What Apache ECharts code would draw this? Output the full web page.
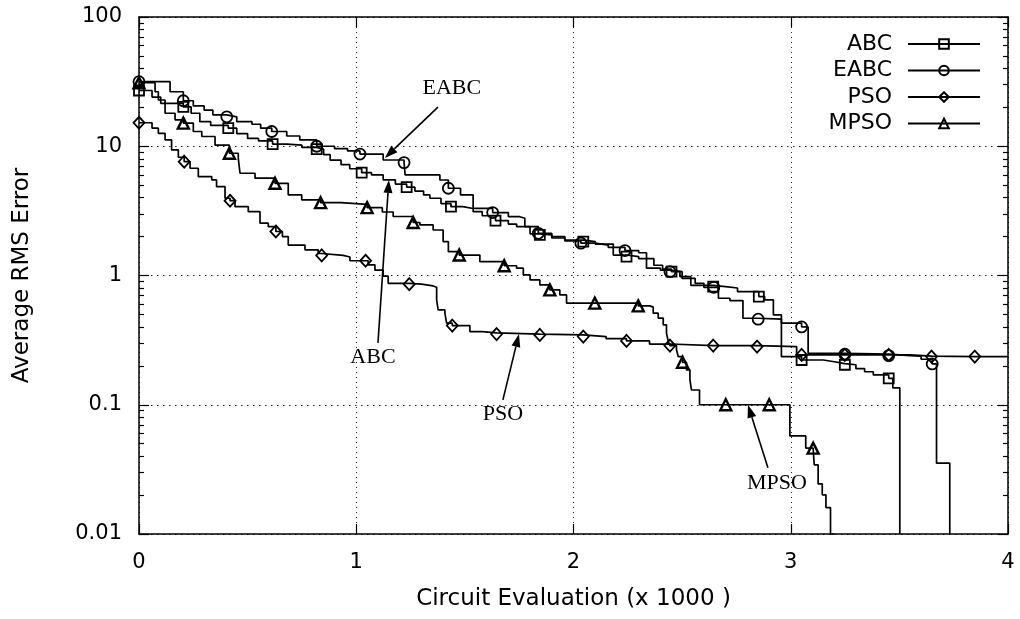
<!DOCTYPE html>
<html><head><meta charset="utf-8">
<script src="https://cdn.jsdelivr.net/npm/echarts@6/dist/echarts.min.js"></script>
<style>html,body{margin:0;padding:0;background:#fff}#c{width:1020px;height:619px}</style>
</head><body><div id="c"></div>
<script>
// ---- data (x in thousands of evaluations, y = average RMS error) ----
const seriesNames = ['ABC', 'EABC', 'PSO', 'MPSO'];
const xTicks = [0, 1, 2, 3, 4];
const yMinorTicks = [0.02,0.03,0.04,0.05,0.06,0.07,0.08,0.09,0.2,0.3,0.4,0.5,0.6,0.7,0.8,0.9,2,3,4,5,6,7,8,9,20,30,40,50,60,70,80,90];

const abcSteps = [[0,27],[0.06,24],[0.1,21.5],[0.204,20.2],[0.24,18],[0.28,15.5],[0.33,14.5],[0.411,13.8],[0.45,12.5],[0.5,11.5],[0.55,11],[0.615,10.4],[0.68,10.2],[0.75,9.8],[0.818,9.5],[0.85,8.6],[0.88,7.8],[0.93,7.2],[0.97,6.7],[1.025,6.25],[1.07,6.0],[1.124,5.5],[1.18,5.1],[1.232,4.82],[1.27,4.5],[1.31,4.2],[1.339,3.96],[1.39,3.6],[1.436,3.41],[1.49,3.3],[1.538,3.12],[1.58,2.9],[1.641,2.66],[1.7,2.5],[1.738,2.39],[1.8,2.1],[1.845,2.06],[1.9,1.95],[1.96,1.88],[2.045,1.83],[2.1,1.75],[2.183,1.44],[2.244,1.40],[2.3,1.35],[2.37,1.2],[2.41,1.12],[2.451,1.07],[2.49,0.98],[2.54,0.84],[2.643,0.82],[2.7,0.80],[2.755,0.75],[2.853,0.687],[2.88,0.647],[2.92,0.496],[2.957,0.236],[3.05,0.222],[3.15,0.215],[3.2,0.208],[3.249,0.204],[3.3,0.19],[3.34,0.18],[3.38,0.17],[3.451,0.16],[3.47,0.135],[3.502,0.01]];
const abcMarkX = [0,0.204,0.411,0.615,0.818,1.025,1.232,1.436,1.641,1.845,2.045,2.244,2.451,2.643,2.853,3.05,3.249,3.451];

const eabcSteps = [[0,31.6],[0.143,26.4],[0.204,22.5],[0.25,20.5],[0.3,19],[0.34,17.5],[0.404,16.9],[0.45,15.5],[0.52,14.8],[0.56,13.8],[0.611,13.0],[0.68,12.0],[0.74,11.2],[0.818,10.0],[0.9,9.6],[0.96,9.2],[1.017,8.7],[1.124,7.83],[1.22,7.47],[1.225,6.0],[1.385,5.48],[1.424,4.73],[1.48,4.2],[1.538,3.31],[1.628,3.07],[1.70,2.85],[1.753,2.77],[1.776,2.39],[1.838,2.12],[1.9,2.0],[1.96,1.85],[2.034,1.78],[2.1,1.72],[2.16,1.65],[2.237,1.56],[2.30,1.5],[2.336,1.14],[2.40,1.1],[2.444,1.07],[2.5,0.95],[2.56,0.87],[2.60,0.81],[2.646,0.81],[2.667,0.667],[2.72,0.64],[2.78,0.467],[2.85,0.459],[2.957,0.428],[3.05,0.40],[3.08,0.25],[3.249,0.246],[3.451,0.240],[3.55,0.238],[3.60,0.225],[3.651,0.207],[3.671,0.0353],[3.732,0.01]];
const eabcMarkX = [0,0.204,0.404,0.611,0.818,1.017,1.22,1.424,1.628,1.838,2.034,2.237,2.444,2.646,2.85,3.05,3.249,3.451,3.651];

const psoSteps = [[0,15.2],[0.06,13.8],[0.089,12.6],[0.12,11.2],[0.15,9.36],[0.181,8.22],[0.208,7.6],[0.235,6.76],[0.273,5.82],[0.335,5.49],[0.357,4.87],[0.396,3.96],[0.419,3.79],[0.442,3.41],[0.503,3.12],[0.557,2.54],[0.595,2.39],[0.630,2.19],[0.66,2.0],[0.687,1.72],[0.764,1.58],[0.825,1.48],[0.841,1.43],[0.94,1.39],[0.971,1.30],[1.043,1.30],[1.055,1.21],[1.086,1.10],[1.124,0.99],[1.147,0.87],[1.244,0.857],[1.30,0.83],[1.354,0.81],[1.370,0.647],[1.377,0.542],[1.408,0.511],[1.416,0.428],[1.442,0.41],[1.523,0.368],[1.58,0.36],[1.646,0.352],[1.845,0.347],[2.045,0.337],[2.15,0.325],[2.244,0.312],[2.35,0.295],[2.444,0.287],[2.643,0.287],[2.845,0.282],[3.027,0.243],[3.05,0.243],[3.249,0.243],[3.451,0.243],[3.55,0.238],[3.648,0.236],[3.847,0.236],[4.0,0.236]];
const psoMarkX = [0,0.208,0.419,0.630,0.841,1.043,1.244,1.442,1.646,1.845,2.045,2.244,2.444,2.643,2.845,3.05,3.249,3.451,3.648,3.847];

const mpsoSteps = [[0,31],[0.074,26.4],[0.089,22.8],[0.12,18],[0.166,16],[0.204,15.1],[0.25,13],[0.289,11.9],[0.35,10.2],[0.416,8.83],[0.457,8.07],[0.465,6.18],[0.534,5.66],[0.626,5.17],[0.687,4.2],[0.749,3.85],[0.836,3.66],[0.93,3.55],[1.05,3.35],[1.12,3.1],[1.17,2.86],[1.262,2.57],[1.293,2.46],[1.354,2.25],[1.40,1.83],[1.424,1.53],[1.474,1.44],[1.569,1.28],[1.681,1.19],[1.738,1.14],[1.769,1.01],[1.80,0.925],[1.845,0.845],[1.891,0.774],[1.937,0.708],[1.968,0.611],[2.098,0.611],[2.298,0.582],[2.352,0.569],[2.367,0.511],[2.39,0.468],[2.413,0.415],[2.428,0.358],[2.436,0.31],[2.444,0.287],[2.474,0.266],[2.482,0.236],[2.502,0.213],[2.52,0.186],[2.536,0.156],[2.543,0.130],[2.58,0.1],[2.701,0.1],[2.901,0.1],[2.996,0.0574],[3.069,0.0462],[3.103,0.0462],[3.108,0.0343],[3.126,0.0244],[3.145,0.0201],[3.162,0.016],[3.183,0.01],[3.2,0.01]];
const mpsoMarkX = [0,0.204,0.416,0.626,0.836,1.05,1.262,1.474,1.681,1.891,2.098,2.298,2.502,2.701,2.901,3.103];

// annotations: label text, label position, arrow start, arrow tip (data coords)
const annoText = ['EABC', 'ABC', 'PSO', 'MPSO'];
const annoLabelAt = [[1.44, 28.2], [1.077, 0.234], [1.675, 0.0851], [2.936, 0.0249]];
const annoFrom = [[1.376, 20.1], [1.10, 0.301], [1.675, 0.109], [2.895, 0.0325]];
const annoTo = [[1.132, 8.12], [1.150, 5.49], [1.749, 0.353], [2.803, 0.0998]];

// ---- chart ----
const FONT = 'DejaVu Sans';
const stepsList = [abcSteps, eabcSteps, psoSteps, mpsoSteps];
const marksList = [abcMarkX, eabcMarkX, psoMarkX, mpsoMarkX];
const symbols = ['rect', 'circle', 'diamond', 'triangle'];
const symbolSizes = [10, 11, [11, 12], 11];

function buildData(steps, marks) {
  return steps.map(p => marks.indexOf(p[0]) >= 0
    ? { value: p }
    : { value: p, symbol: 'none' });
}

const series = seriesNames.map((name, i) => ({
  name: name,
  type: 'line',
  step: 'end',
  data: buildData(stepsList[i], marksList[i]),
  symbol: symbols[i],
  symbolSize: symbolSizes[i],
  showSymbol: true,
  showAllSymbol: true,
  clip: true,
  lineStyle: { color: '#000', width: 1.7 },
  itemStyle: { color: 'rgba(255,255,255,0)', borderColor: '#000', borderWidth: i === 3 ? 2.4 : 1.8 },
  emphasis: { disabled: true },
  animation: false,
  z: 3
}));

const axisLineStyle = { color: '#000', width: 1.5 };
const chart = echarts.init(document.getElementById('c'), null, { renderer: 'canvas' });
chart.setOption({
  animation: false,
  backgroundColor: '#fff',
  grid: { left: 139, right: 12, top: 17, bottom: 85, outerBoundsMode: 'none', containLabel: false },
  legend: {
    data: seriesNames.map(n => ({ name: n })),
    right: 34,
    top: 28,
    orient: 'vertical',
    align: 'right',
    itemWidth: 72,
    itemHeight: 12,
    itemGap: 4.5,
    selectedMode: false,
    textStyle: { fontFamily: FONT, fontSize: 22, color: '#000', lineHeight: 22, padding: [0, 11, 0, 0] }
  },
  xAxis: [{
    type: 'value', min: 0, max: 4, interval: 1, position: 'bottom',
    name: 'Circuit Evaluation (x 1000 )', nameLocation: 'middle', nameGap: 54,
    nameTextStyle: { fontFamily: FONT, fontSize: 23, color: '#000' },
    axisLine: { show: true, lineStyle: axisLineStyle },
    axisTick: { show: true, inside: true, length: 10, lineStyle: { color: '#000', width: 1.2 } },
    axisLabel: { fontFamily: FONT, fontSize: 21, color: '#000', margin: 18 },
    splitLine: { show: true, lineStyle: { color: '#222', width: 1, type: [1, 4] } }
  }, {
    type: 'value', min: 0, max: 4, interval: 1, position: 'top',
    axisLine: { show: true, lineStyle: axisLineStyle },
    axisTick: { show: true, inside: true, length: 10, lineStyle: { color: '#000', width: 1.2 } },
    axisLabel: { show: false },
    splitLine: { show: false }
  }],
  yAxis: [{
    type: 'log', logBase: 10, min: 0.01, max: 100, position: 'left',
    name: 'Average RMS Error', nameLocation: 'middle', nameGap: 105, nameRotate: 90,
    nameTextStyle: { fontFamily: FONT, fontSize: 23, color: '#000' },
    axisLine: { show: true, lineStyle: axisLineStyle },
    axisTick: { show: true, inside: true, length: 10, lineStyle: { color: '#000', width: 1.2 } },
    axisLabel: { fontFamily: FONT, fontSize: 21, color: '#000', margin: 17 },
    splitLine: { show: true, lineStyle: { color: '#222', width: 1, type: [1.5, 4.5] } }
  }, {
    type: 'log', logBase: 10, min: 0.01, max: 100, position: 'left',
    axisLine: { show: false },
    axisTick: { show: true, inside: true, length: 5, customValues: yMinorTicks, lineStyle: { color: '#000', width: 1.2 } },
    axisLabel: { show: false },
    splitLine: { show: false }
  }, {
    type: 'log', logBase: 10, min: 0.01, max: 100, position: 'right',
    axisLine: { show: true, lineStyle: axisLineStyle },
    axisTick: { show: true, inside: true, length: 10, lineStyle: { color: '#000', width: 1.2 } },
    axisLabel: { show: false },
    splitLine: { show: false }
  }, {
    type: 'log', logBase: 10, min: 0.01, max: 100, position: 'right',
    axisLine: { show: false },
    axisTick: { show: true, inside: true, length: 5, customValues: yMinorTicks, lineStyle: { color: '#000', width: 1.2 } },
    axisLabel: { show: false },
    splitLine: { show: false }
  }],
  series: series
});

// annotations placed through the axis scales
const graphics = [];
annoText.forEach((t, i) => {
  const lp = chart.convertToPixel({ xAxisIndex: 0, yAxisIndex: 0 }, annoLabelAt[i]);
  const a = chart.convertToPixel({ xAxisIndex: 0, yAxisIndex: 0 }, annoFrom[i]);
  const b = chart.convertToPixel({ xAxisIndex: 0, yAxisIndex: 0 }, annoTo[i]);
  graphics.push({
    type: 'text', x: lp[0], y: lp[1], z: 10,
    style: { text: t, fontFamily: 'Liberation Serif', fontSize: 22, fill: '#000', align: 'center', verticalAlign: 'middle' }
  });
  const dx = b[0] - a[0], dy = b[1] - a[1];
  const L = Math.sqrt(dx * dx + dy * dy);
  const ux = dx / L, uy = dy / L;
  const hl = 13, hw = 4.5;
  const bx = b[0] - ux * hl, by = b[1] - uy * hl;
  graphics.push({
    type: 'line', z: 10,
    shape: { x1: a[0], y1: a[1], x2: bx, y2: by },
    style: { stroke: '#000', lineWidth: 1.6 }
  });
  graphics.push({
    type: 'polygon', z: 10,
    shape: { points: [[b[0], b[1]], [bx - uy * hw, by + ux * hw], [bx + uy * hw, by - ux * hw]] },
    style: { fill: '#000' }
  });
});
chart.setOption({ graphic: graphics });
</script>
</body></html>
